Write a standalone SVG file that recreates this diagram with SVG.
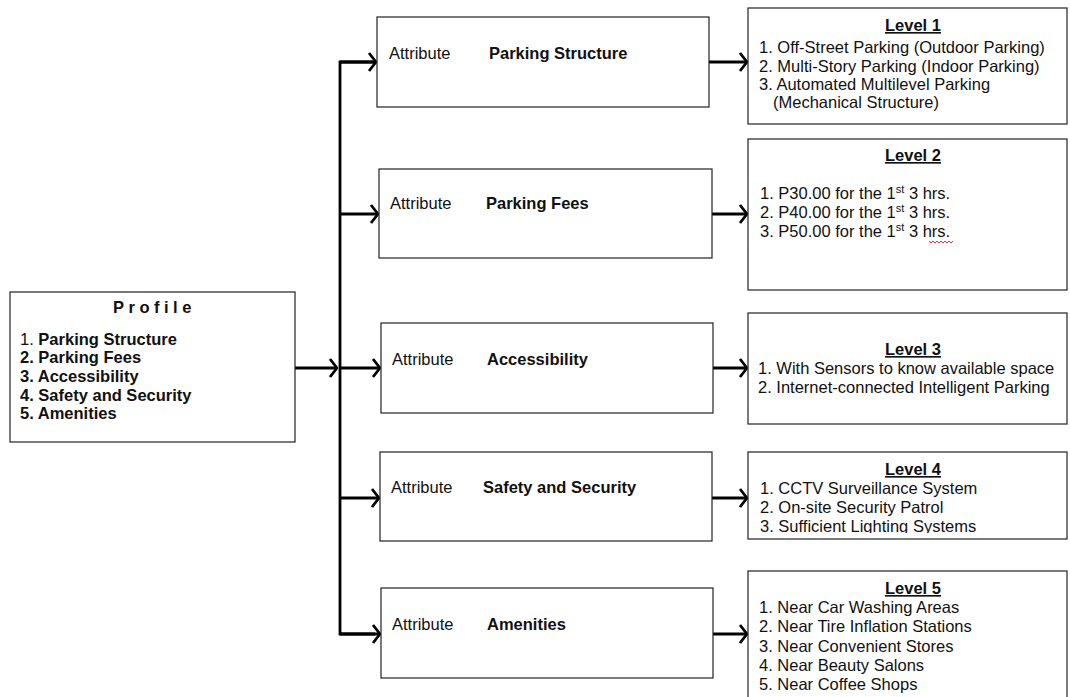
<svg xmlns="http://www.w3.org/2000/svg" width="1070" height="697" viewBox="0 0 1070 697">
<style>
  text { font-family: "Liberation Sans", Arial, sans-serif; font-size: 16.5px; fill: #111; }
  .b { font-weight: bold; }
  .box { fill: #fff; stroke: #222; stroke-width: 1.2; }
  .lvl { font-weight: bold; text-decoration: underline; text-anchor: middle; }
  .con { fill: none; stroke: #000; stroke-width: 2.8; }
</style>
<defs>
  <marker id="arr" markerUnits="userSpaceOnUse" markerWidth="12" markerHeight="22" refX="9" refY="11" orient="auto" viewBox="0 0 12 22">
    <path d="M2,2 L9,11 L2,20" fill="none" stroke="#000" stroke-width="2.8" stroke-linejoin="round"/>
  </marker>
  <clipPath id="clip4"><rect x="748" y="452" width="320" height="81"/></clipPath>
</defs>

<g id="connectors">
  <path class="con" d="M295,368 H337" marker-end="url(#arr)"/>
  <path class="con" d="M375,62 H340 V634 H375" />
  <path class="con" d="M340,62 H376" marker-end="url(#arr)"/>
  <path class="con" d="M340,214 H378" marker-end="url(#arr)"/>
  <path class="con" d="M340,368 H380" marker-end="url(#arr)"/>
  <path class="con" d="M340,498 H379" marker-end="url(#arr)"/>
  <path class="con" d="M340,634 H380" marker-end="url(#arr)"/>
  <path class="con" d="M709,62 H747" marker-end="url(#arr)"/>
  <path class="con" d="M712,214 H747" marker-end="url(#arr)"/>
  <path class="con" d="M713,368 H747" marker-end="url(#arr)"/>
  <path class="con" d="M712,498 H747" marker-end="url(#arr)"/>
  <path class="con" d="M713,634 H747" marker-end="url(#arr)"/>
</g>

<g id="profile">
  <rect class="box" x="10" y="292" width="285" height="150"/>
  <text class="b" x="113" y="313" letter-spacing="4.5">Profile</text>
  <text x="20" y="345">1. <tspan class="b">Parking Structure</tspan></text>
  <text class="b" x="20" y="363">2. Parking Fees</text>
  <text class="b" x="20" y="382">3. Accessibility</text>
  <text class="b" x="20" y="401">4. Safety and Security</text>
  <text class="b" x="20" y="419">5. Amenities</text>
</g>

<g id="attr-parking-structure">
  <rect class="box" x="377" y="17" width="332" height="90"/>
  <text x="389" y="59">Attribute</text>
  <text class="b" x="489" y="59">Parking Structure</text>
</g>
<g id="attr-parking-fees">
  <rect class="box" x="379" y="169" width="333" height="89"/>
  <text x="390" y="209">Attribute</text>
  <text class="b" x="486" y="209">Parking Fees</text>
</g>
<g id="attr-accessibility">
  <rect class="box" x="381" y="323" width="332" height="90"/>
  <text x="392" y="365">Attribute</text>
  <text class="b" x="487" y="365">Accessibility</text>
</g>
<g id="attr-safety">
  <rect class="box" x="380" y="452" width="332" height="89"/>
  <text x="391" y="493">Attribute</text>
  <text class="b" x="483" y="493">Safety and Security</text>
</g>
<g id="attr-amenities">
  <rect class="box" x="381" y="588" width="332" height="90"/>
  <text x="392" y="630">Attribute</text>
  <text class="b" x="487" y="630">Amenities</text>
</g>

<g id="level1">
  <rect class="box" x="748" y="8" width="319" height="116"/>
  <text class="lvl" x="913" y="31">Level 1</text>
  <text x="759" y="53">1. Off-Street Parking (Outdoor Parking)</text>
  <text x="759" y="72">2. Multi-Story Parking (Indoor Parking)</text>
  <text x="759" y="90">3. Automated Multilevel Parking</text>
  <text x="773" y="108">(Mechanical Structure)</text>
</g>
<g id="level2">
  <rect class="box" x="748" y="139" width="319" height="151"/>
  <text class="lvl" x="913" y="161">Level 2</text>
  <text x="760" y="199">1. P30.00 for the 1<tspan font-size="11" dy="-6">st</tspan><tspan dy="6"> 3 hrs.</tspan></text>
  <text x="760" y="218">2. P40.00 for the 1<tspan font-size="11" dy="-6">st</tspan><tspan dy="6"> 3 hrs.</tspan></text>
  <text x="760" y="237">3. P50.00 for the 1<tspan font-size="11" dy="-6">st</tspan><tspan dy="6"> 3 hrs.</tspan></text>
  <path d="M929,241 l2,2 l2,-2 l2,2 l2,-2 l2,2 l2,-2 l2,2 l2,-2 l2,2 l2,-2 l2,2 l2,-2" fill="none" stroke="#d22" stroke-width="0.9"/>
</g>
<g id="level3">
  <rect class="box" x="748" y="313" width="319" height="111"/>
  <text class="lvl" x="913" y="355">Level 3</text>
  <text x="758" y="374">1. With Sensors to know available space</text>
  <text x="758" y="393">2. Internet-connected Intelligent Parking</text>
</g>
<g id="level4">
  <rect class="box" x="748" y="452" width="319" height="87"/>
  <g clip-path="url(#clip4)">
    <text class="lvl" x="913" y="475">Level 4</text>
    <text x="760" y="494">1. CCTV Surveillance System</text>
    <text x="760" y="513">2. On-site Security Patrol</text>
    <text x="760" y="532">3. Sufficient Lighting Systems</text>
  </g>
</g>
<g id="level5">
  <rect class="box" x="748" y="571" width="319" height="140"/>
  <text class="lvl" x="913" y="594">Level 5</text>
  <text x="759" y="613">1. Near Car Washing Areas</text>
  <text x="759" y="632">2. Near Tire Inflation Stations</text>
  <text x="759" y="652">3. Near Convenient Stores</text>
  <text x="759" y="671">4. Near Beauty Salons</text>
  <text x="759" y="690">5. Near Coffee Shops</text>
</g>
</svg>
